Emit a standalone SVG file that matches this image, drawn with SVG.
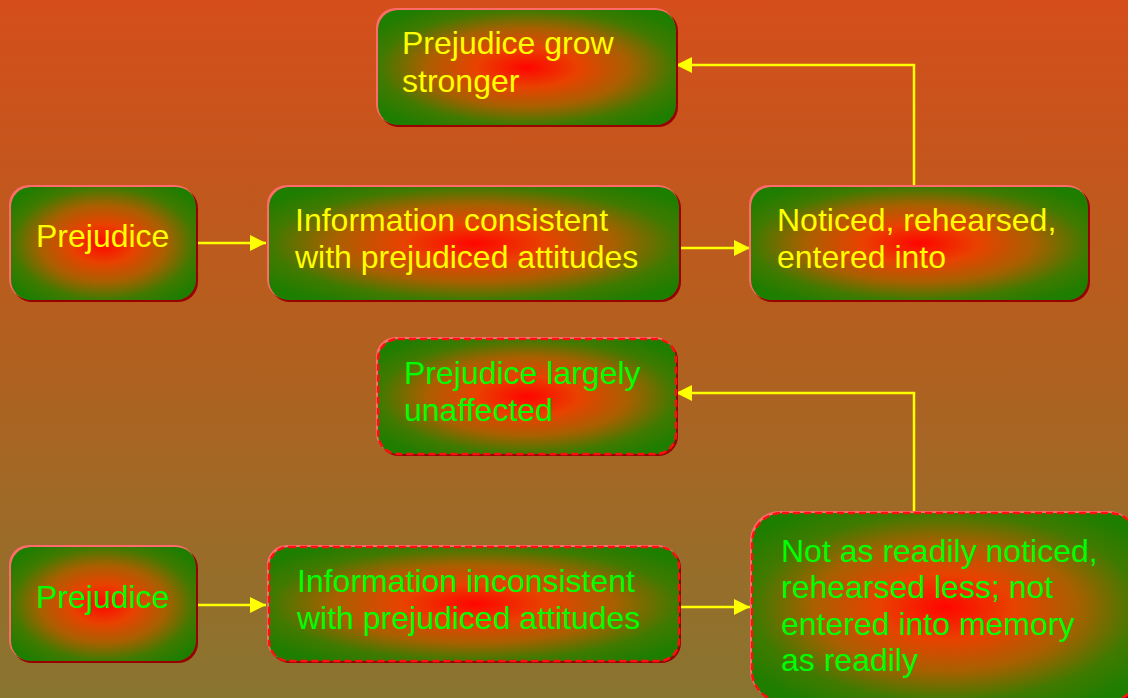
<svg xmlns="http://www.w3.org/2000/svg" width="1128" height="698" viewBox="0 0 1128 698">
<defs>
<linearGradient id="bg" x1="0" y1="0" x2="0" y2="1">
<stop offset="0" stop-color="#D54E1B"/>
<stop offset="0.5" stop-color="#B2601F"/>
<stop offset="1" stop-color="#887530"/>
</linearGradient>
<radialGradient id="fillg" cx="0.5" cy="0.5" r="0.62">
<stop offset="0" stop-color="#FF0500"/>
<stop offset="0.28" stop-color="#E84200"/>
<stop offset="0.55" stop-color="#A86000"/>
<stop offset="0.8" stop-color="#407A00"/>
<stop offset="1" stop-color="#1E7E00"/>
</radialGradient>
<marker id="ah" viewBox="0 0 16 16" refX="16" refY="8" markerWidth="16" markerHeight="16" markerUnits="userSpaceOnUse" orient="auto">
<path d="M0,0 L16,8 L0,16 Z" fill="#FFFF00"/>
</marker>
<style>
.hl{fill:#FF6B6B}
.sh{fill:#990000}
.body{fill:url(#fillg)}
.dash{fill:none;stroke:#FF1010;stroke-width:2.5;stroke-dasharray:7 4}
.ty{font-family:"Liberation Sans",Arial,sans-serif;font-size:32px;fill:#FFFF00}
.tg{font-family:"Liberation Sans",Arial,sans-serif;font-size:32px;fill:#00FF00}
.con{fill:none;stroke:#FFFF00;stroke-width:2.5}
</style>
</defs>
<rect x="0" y="0" width="1128" height="698" fill="url(#bg)"/>

<g id="connectors">
<line class="con" x1="193" y1="243" x2="266" y2="243" marker-end="url(#ah)"/>
<line class="con" x1="678" y1="248" x2="750" y2="248" marker-end="url(#ah)"/>
<polyline class="con" points="914,186 914,65 676,65" marker-end="url(#ah)"/>
<line class="con" x1="193" y1="605" x2="266" y2="605" marker-end="url(#ah)"/>
<line class="con" x1="678" y1="607" x2="750" y2="607" marker-end="url(#ah)"/>
<polyline class="con" points="914,512 914,393 676,393" marker-end="url(#ah)"/>
</g>

<g id="n_grow">
<rect class="sh" x="379" y="11" width="299" height="116" rx="20"/>
<rect class="hl" x="376" y="8" width="299" height="116" rx="20"/>
<rect class="body" x="378" y="10" width="298" height="115" rx="20"/>
<text class="ty" x="402" y="54">Prejudice grow</text>
<text class="ty" x="402" y="92">stronger</text>
</g>

<g id="n_prej1">
<rect class="sh" x="12" y="188" width="186" height="114" rx="20"/>
<rect class="hl" x="9" y="185" width="186" height="114" rx="20"/>
<rect class="body" x="11" y="187" width="185" height="113" rx="20"/>
<text class="ty" x="36" y="247">Prejudice</text>
</g>

<g id="n_cons">
<rect class="sh" x="270" y="188" width="411" height="114" rx="20"/>
<rect class="hl" x="267" y="185" width="411" height="114" rx="20"/>
<rect class="body" x="269" y="187" width="410" height="113" rx="20"/>
<text class="ty" x="295" y="231">Information consistent</text>
<text class="ty" x="295" y="268">with prejudiced attitudes</text>
</g>

<g id="n_noticed">
<rect class="sh" x="752" y="188" width="338" height="114" rx="20"/>
<rect class="hl" x="749" y="185" width="338" height="114" rx="20"/>
<rect class="body" x="751" y="187" width="337" height="113" rx="20"/>
<text class="ty" x="777" y="231">Noticed, rehearsed,</text>
<text class="ty" x="777" y="268">entered into</text>
</g>

<g id="n_unaff">
<rect class="sh" x="379" y="340" width="299" height="116" rx="20"/>
<rect class="hl" x="376" y="337" width="299" height="116" rx="20"/>
<rect class="body" x="378" y="339" width="298" height="115" rx="20"/>
<rect class="dash" x="378" y="339" width="298" height="115" rx="20"/>
<text class="tg" x="404" y="384">Prejudice largely</text>
<text class="tg" x="404" y="421">unaffected</text>
</g>

<g id="n_prej2">
<rect class="sh" x="12" y="548" width="186" height="115" rx="20"/>
<rect class="hl" x="9" y="545" width="186" height="115" rx="20"/>
<rect class="body" x="11" y="547" width="185" height="114" rx="20"/>
<text class="tg" x="36" y="608">Prejudice</text>
</g>

<g id="n_incons">
<rect class="sh" x="270" y="548" width="411" height="115" rx="20"/>
<rect class="hl" x="267" y="545" width="411" height="115" rx="20"/>
<rect class="body" x="269" y="547" width="410" height="114" rx="20"/>
<rect class="dash" x="269" y="547" width="410" height="114" rx="20"/>
<text class="tg" x="297" y="592">Information inconsistent</text>
<text class="tg" x="297" y="629">with prejudiced attitudes</text>
</g>

<g id="n_notready">
<rect class="sh" x="753" y="514" width="388" height="189" rx="30"/>
<rect class="hl" x="750" y="511" width="388" height="189" rx="30"/>
<rect class="body" x="752" y="513" width="387" height="188" rx="30"/>
<rect class="dash" x="752" y="513" width="387" height="188" rx="30"/>
<text class="tg" x="781" y="562">Not as readily noticed,</text>
<text class="tg" x="781" y="598">rehearsed less; not</text>
<text class="tg" x="781" y="635">entered into memory</text>
<text class="tg" x="781" y="671">as readily</text>
</g>
</svg>
